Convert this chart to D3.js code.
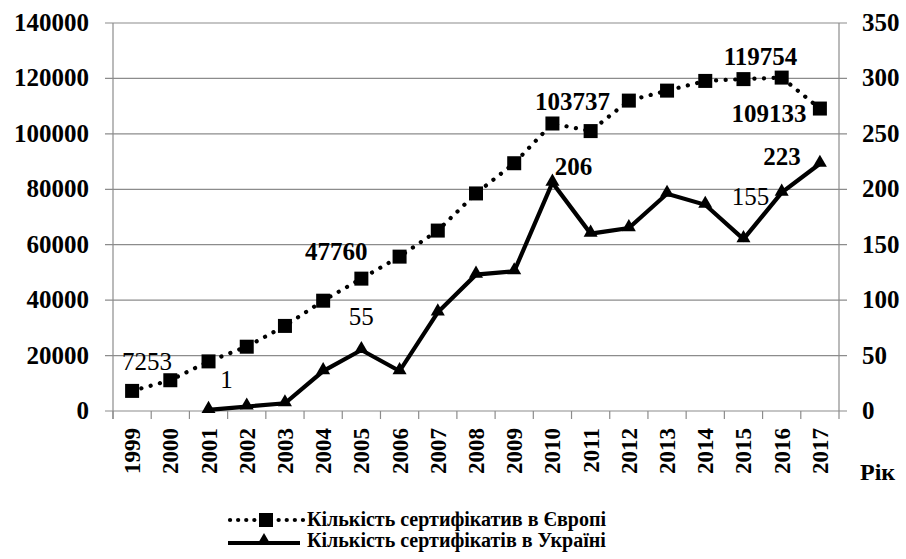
<!DOCTYPE html>
<html>
<head>
<meta charset="utf-8">
<script src="https://cdn.jsdelivr.net/npm/d3@7"></script>
</head>
<body style="margin:0">
<script>
// Data
const years = ["1999", "2000", "2001", "2002", "2003", "2004", "2005", "2006", "2007", "2008",
  "2009", "2010", "2011", "2012", "2013", "2014", "2015", "2016", "2017"];
const europe = [7253, 11100, 17900, 23200, 30700, 39800, 47760, 55700, 65100, 78500,
  89400, 103737, 101000, 112000, 115600, 119100, 119754, 120300, 109133];
const ukraine = [null, null, 1, 4, 7, 36, 55, 36, 89, 123,
  126, 206, 160, 165, 196, 186, 155, 197, 223];
const leftTicks = [0, 20000, 40000, 60000, 80000, 100000, 120000, 140000];
const rightTicks = [0, 50, 100, 150, 200, 250, 300, 350];
const seriesNames = ["Кількість сертифікатив в Європі", "Кількість сертифікатів в Україні"];
const xTitle = "Рік";

// labels shown on the chart: [year index, dx, dy, bold]
const europeLabels = [[0, 15, 29, false], [6, -25, 27, true], [11, 20, 22, true], [16, 17, 22, true], [18, -51, -5, true]];
const ukraineLabels = [[2, 18, 30, false], [6, 0, 33, false], [11, 21, 16, true], [16, 7, 42, false], [18, -38, 7, true]];

const W = 906, H = 559;
const M = { left: 113, right: 839, top: 23, bottom: 411 };
const FONT = "'Liberation Serif'";

const svg = d3.select("body").append("svg").attr("width", W).attr("height", H);

const x = d3.scaleBand().domain(years).range([M.left, M.right]);
const yL = d3.scaleLinear().domain([0, 140000]).range([M.bottom, M.top]);
const yR = d3.scaleLinear().domain([0, 350]).range([M.bottom, M.top]);
const cx = (i) => x(years[i]) + x.bandwidth() / 2;

const GRID = "#8c8c8c";

// Gridlines
svg.append("g").selectAll("line").data(leftTicks).enter().append("line")
  .attr("x1", M.left - 8).attr("x2", M.right + 8)
  .attr("y1", (d) => yL(d)).attr("y2", (d) => yL(d))
  .attr("stroke", GRID).attr("stroke-width", 1.2);

// Axis lines
svg.append("line").attr("x1", M.left).attr("x2", M.left).attr("y1", M.top).attr("y2", M.bottom + 8)
  .attr("stroke", GRID).attr("stroke-width", 1.2);
svg.append("line").attr("x1", M.right).attr("x2", M.right).attr("y1", M.top).attr("y2", M.bottom + 8)
  .attr("stroke", GRID).attr("stroke-width", 1.2);

// X ticks at category boundaries
svg.append("g").selectAll("line").data(years).enter().append("line")
  .attr("x1", (d) => x(d)).attr("x2", (d) => x(d))
  .attr("y1", M.bottom).attr("y2", M.bottom + 8)
  .attr("stroke", GRID).attr("stroke-width", 1.2);

// Left tick labels
svg.selectAll("text.yl").data(leftTicks).enter().append("text")
  .attr("class", "yl")
  .attr("x", 89).attr("y", (d) => yL(d) + 8)
  .attr("text-anchor", "end").attr("font-size", 25).attr("font-weight", "bold")
  .text((d) => d);

// Right tick labels
svg.selectAll("text.yr").data(rightTicks).enter().append("text")
  .attr("class", "yr")
  .attr("x", 862).attr("y", (d) => yR(d) + 8)
  .attr("font-size", 25).attr("font-weight", "bold")
  .text((d) => d);

// X tick labels (rotated)
svg.selectAll("text.xl").data(years).enter().append("text")
  .attr("class", "xl")
  .attr("transform", (d, i) => "translate(" + (cx(i) + 8) + "," + 428 + ") rotate(-90)")
  .attr("text-anchor", "end")
  .attr("font-size", 23).attr("font-weight", "bold")
  .text((d) => d);

svg.append("text").attr("x", 860).attr("y", 480)
  .attr("font-size", 24).attr("font-weight", "bold").text(xTitle);

// Europe line (dotted)
const lineEu = d3.line().x((d, i) => cx(i)).y((d) => yL(d));
svg.append("path").datum(europe).attr("d", lineEu)
  .attr("fill", "none").attr("stroke", "#000").attr("stroke-width", 4.2)
  .attr("stroke-linecap", "round").attr("stroke-dasharray", "0.1 9.5");

svg.append("g").selectAll("rect").data(europe).enter().append("rect")
  .attr("x", (d, i) => cx(i) - 7).attr("y", (d) => yL(d) - 7)
  .attr("width", 14).attr("height", 14).attr("fill", "#000");

// Ukraine line (solid)
const uaPts = ukraine.map((d, i) => [i, d]).filter((p) => p[1] !== null);
const lineUa = d3.line().x((p) => cx(p[0])).y((p) => yR(p[1]));
svg.append("path").datum(uaPts).attr("d", lineUa)
  .attr("fill", "none").attr("stroke", "#000").attr("stroke-width", 4.2)
  .attr("stroke-linejoin", "miter");

const tri = d3.symbol().type(d3.symbolTriangle).size(85);
svg.append("g").selectAll("path").data(uaPts).enter().append("path")
  .attr("d", tri)
  .attr("transform", (p) => "translate(" + cx(p[0]) + "," + (yR(p[1]) - 1) + ")")
  .attr("fill", "#000");

// Data labels
svg.selectAll("text.le").data(europeLabels).enter().append("text")
  .attr("class", "le")
  .attr("x", (d) => cx(d[0]) + d[1]).attr("y", (d) => yL(europe[d[0]]) - d[2] + 8)
  .attr("text-anchor", "middle")
  .attr("font-size", 25).attr("font-weight", (d) => (d[3] ? "bold" : "normal"))
  .text((d) => europe[d[0]]);

svg.selectAll("text.lu").data(ukraineLabels).enter().append("text")
  .attr("class", "lu")
  .attr("x", (d) => cx(d[0]) + d[1]).attr("y", (d) => yR(ukraine[d[0]]) - d[2] + 8)
  .attr("text-anchor", "middle")
  .attr("font-size", 25).attr("font-weight", (d) => (d[3] ? "bold" : "normal"))
  .text((d) => ukraine[d[0]]);

// Legend
svg.append("line").attr("x1", 230).attr("x2", 304).attr("y1", 520).attr("y2", 520)
  .attr("stroke", "#000").attr("stroke-width", 4.2)
  .attr("stroke-linecap", "round").attr("stroke-dasharray", "0.1 8");
svg.append("rect").attr("x", 259).attr("y", 513).attr("width", 14).attr("height", 14).attr("fill", "#000");
svg.append("line").attr("x1", 228).attr("x2", 300).attr("y1", 543).attr("y2", 543)
  .attr("stroke", "#000").attr("stroke-width", 4.2);
svg.append("path").attr("d", tri).attr("transform", "translate(264,541)").attr("fill", "#000");

svg.selectAll("text.lg").data(seriesNames).enter().append("text")
  .attr("class", "lg")
  .attr("x", 307).attr("y", (d, i) => 526 + i * 21)
  .attr("font-size", 20).attr("font-weight", "bold")
  .text((d) => d);

// Serif font on every text element
svg.selectAll("text").style("font-family", FONT, "important");
</script>
</body>
</html>
